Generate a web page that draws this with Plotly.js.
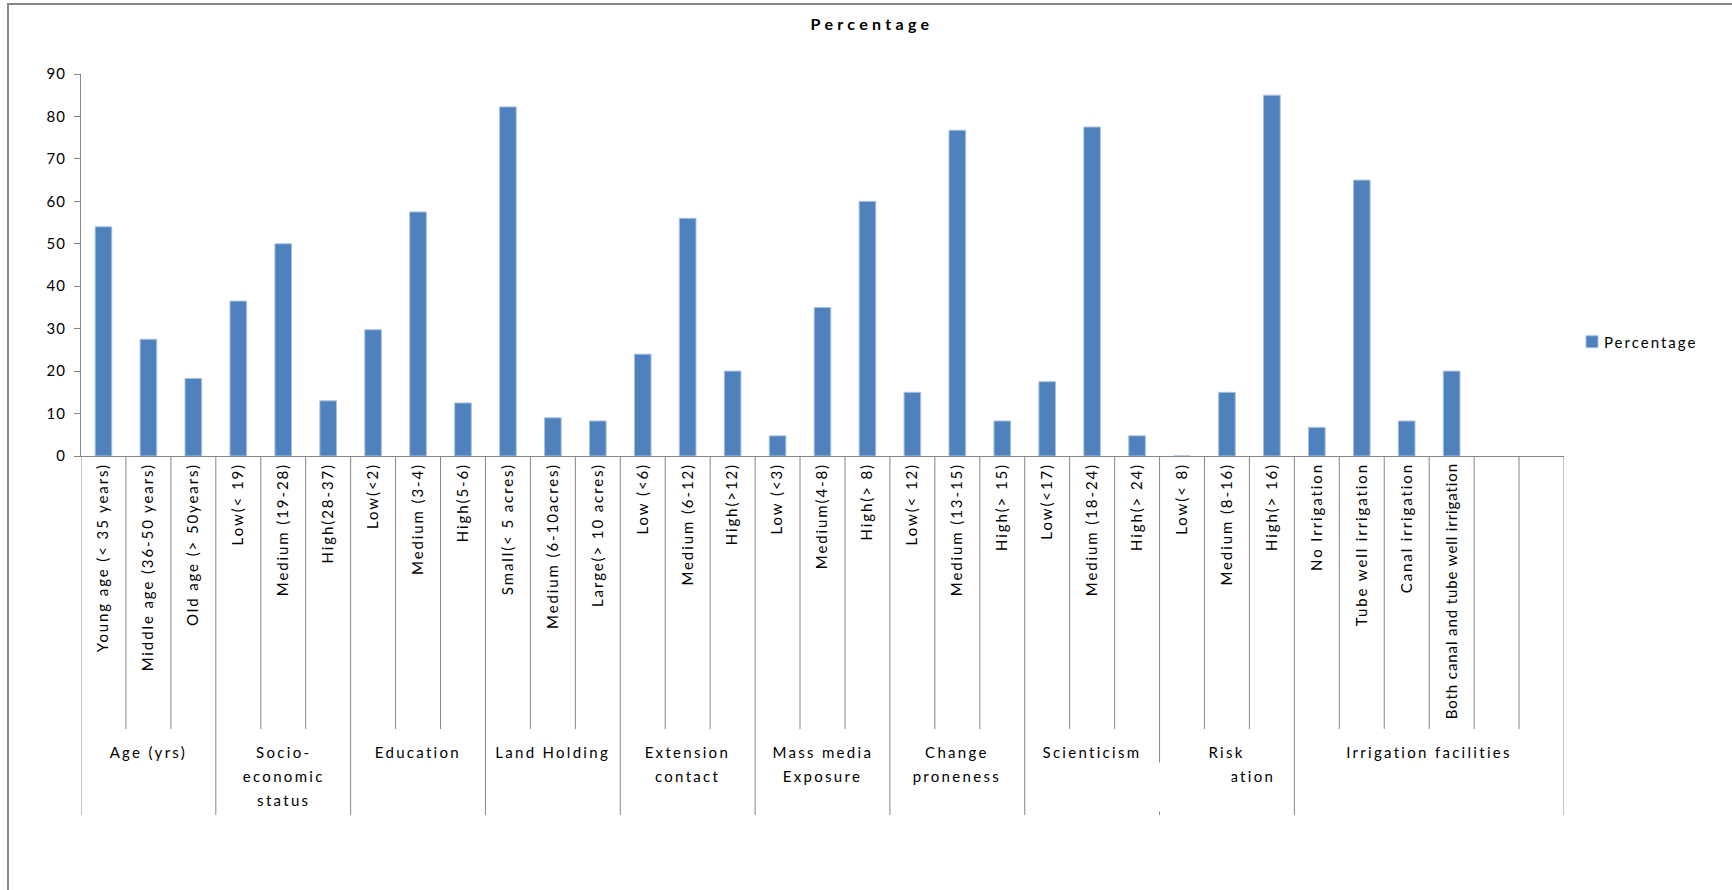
<!DOCTYPE html>
<html>
<head>
<meta charset="utf-8">
<script src="https://cdn.plot.ly/plotly-3.0.1.min.js"></script>
<style>
  html, body { margin: 0; padding: 0; background: #ffffff; }
  #chart { width: 1732px; height: 890px; }
  #chart .xtick text { letter-spacing: 1.9px; }
  #chart .ytick text { letter-spacing: 1px; }
  #chart .annotation-text { letter-spacing: 2.3px; }
  #chart .legendtext { letter-spacing: 2px; transform: translateX(-8px); }
  #chart .legend * { clip-path: none !important; }
  #chart .gtitle { letter-spacing: 4.3px; }
</style>
</head>
<body>
<div id="chart"></div>
<script>
// Profile groups (outer axis level) and how many categories each one spans
const groupNames = [
  'Age (yrs)',
  'Socio-<br>economic<br>status',
  'Education',
  'Land Holding',
  'Extension<br>contact',
  'Mass media<br>Exposure',
  'Change<br>proneness',
  'Scienticism',
  'Risk<br>orientation',
  'Irrigation facilities'
];
const groupSizes = [3, 3, 3, 3, 3, 3, 3, 3, 3, 6];

// Categories (inner axis level); the irrigation group ends with two empty slots
const categories = [
  'Young age (< 35 years)', 'Middle age (36-50 years)', 'Old age (> 50years)',
  'Low(< 19)', 'Medium (19-28)', 'High(28-37)',
  'Low(<2)', 'Medium (3-4)', 'High(5-6)',
  'Small(< 5 acres)', 'Medium (6-10acres)', 'Large(> 10 acres)',
  'Low (<6)', 'Medium (6-12)', 'High(>12)',
  'Low (<3)', 'Medium(4-8)', 'High(> 8)',
  'Low(< 12)', 'Medium (13-15)', 'High(> 15)',
  'Low(<17)', 'Medium (18-24)', 'High(> 24)',
  'Low(< 8)', 'Medium (8-16)', 'High(> 16)',
  'No Irrigation', 'Tube well irrigation', 'Canal irrigation', 'Both canal and tube well irrigation',
  '', ''
];

// Percentage of respondents in each category
const percentages = [
  54, 27.5, 18.25,
  36.5, 50, 13,
  29.75, 57.5, 12.5,
  82.25, 9, 8.25,
  24, 56, 20,
  4.75, 35, 60,
  15, 76.75, 8.25,
  17.5, 77.5, 4.75,
  0, 15, 85,
  6.75, 65, 8.25, 20,
  null, null
];

const seriesName = 'Percentage';
const yTickValues = [0, 10, 20, 30, 40, 50, 60, 70, 80, 90];

// Page geometry (pixels)
const W = 1732, H = 890;
const L = 81, R = 168, T = 74, B = 434;
const plotW = W - L - R, plotH = H - T - B;
const paperX = px => (px - L) / plotW;
const paperY = py => (H - B - py) / plotH;

const axisGray = '#868686';
const shapes = [];
const annotations = [];

// Category separators below the axis; group borders run further down
const groupEdges = new Set([-0.5]);
let running = 0;
groupSizes.forEach(n => { running += n; groupEdges.add(running - 0.5); });
for (let i = 0; i <= categories.length; i++) {
  const xb = i - 0.5;
  const tall = groupEdges.has(xb);
  shapes.push({
    type: 'line', xref: 'x', yref: 'paper',
    x0: xb, x1: xb, y0: 0, y1: paperY(tall ? 815 : 729),
    line: { color: axisGray, width: 1 }
  });
}

// Outer frame around the whole chart
shapes.push({
  type: 'rect', xref: 'paper', yref: 'paper',
  x0: paperX(8), x1: paperX(1745), y0: paperY(4), y1: paperY(905),
  line: { color: axisGray, width: 2 }, fillcolor: 'rgba(0,0,0,0)'
});

// Group labels, one annotation per text line
let first = 0;
groupNames.forEach((name, g) => {
  const n = groupSizes[g];
  const center = first + (n - 1) / 2;
  name.split('<br>').forEach((line, k) => {
    annotations.push({
      xref: 'x', yref: 'paper', x: center, y: paperY(752 + 24 * k),
      xanchor: 'center', yanchor: 'middle', showarrow: false,
      text: line, font: { size: 15, color: '#000000' }
    });
  });
  first += n;
});

// White patch lying over part of the risk label and its left border
annotations.push({
  xref: 'paper', yref: 'paper', x: paperX(1150), y: paperY(762),
  xanchor: 'left', yanchor: 'top', showarrow: false,
  text: '\u00a0', width: 80, height: 48, bgcolor: '#ffffff', borderpad: 0
});

const trace = {
  type: 'bar',
  name: seriesName,
  x: categories.map((_, i) => i),
  y: percentages,
  marker: { color: '#4F81BD', line: { color: '#A9C1E0', width: 1 } },
  hoverinfo: 'y'
};

const layout = {
  width: W, height: H,
  margin: { l: L, r: R, t: T, b: B, pad: 0 },
  paper_bgcolor: '#ffffff', plot_bgcolor: '#ffffff',
  font: { family: 'Lato, "Open Sans", sans-serif', size: 15, color: '#000000' },
  title: {
    text: '<b>Percentage</b>',
    font: { size: 16, color: '#000000' },
    xref: 'container', x: 872 / W, xanchor: 'center',
    yref: 'container', y: 1 - 24 / H, yanchor: 'middle'
  },
  xaxis: {
    type: 'linear',
    range: [-0.5, categories.length - 0.5],
    tickmode: 'array',
    tickvals: categories.map((_, i) => i),
    ticktext: categories,
    tickangle: -90,
    ticks: '',
    showgrid: false, zeroline: false,
    showline: true, linecolor: axisGray, linewidth: 1,
    tickfont: { size: 15, color: '#000000' },
    fixedrange: true
  },
  yaxis: {
    range: [0, 90],
    tickmode: 'array', tickvals: yTickValues,
    ticks: 'outside', ticklen: 6, tickcolor: axisGray,
    showgrid: false, zeroline: false,
    showline: true, linecolor: axisGray, linewidth: 1,
    ticklabelstandoff: 5,
    tickfont: { size: 15, color: '#000000' },
    fixedrange: true
  },
  bargap: 0.63,
  showlegend: true,
  legend: {
    x: paperX(1572), xanchor: 'left',
    y: paperY(342), yanchor: 'middle',
    font: { size: 15, color: '#000000' },
    bgcolor: 'rgba(0,0,0,0)'
  },
  shapes: shapes,
  annotations: annotations
};

Plotly.newPlot('chart', [trace], layout, { displayModeBar: false, staticPlot: true }).then(gd => {
  // Tighten the very long category label so it stays above the group row
  gd.querySelectorAll('.xtick text').forEach(t => {
    if (t.textContent.length > 30) {
      t.style.letterSpacing = '0.9px';
    }
  });
});
</script>
</body>
</html>
